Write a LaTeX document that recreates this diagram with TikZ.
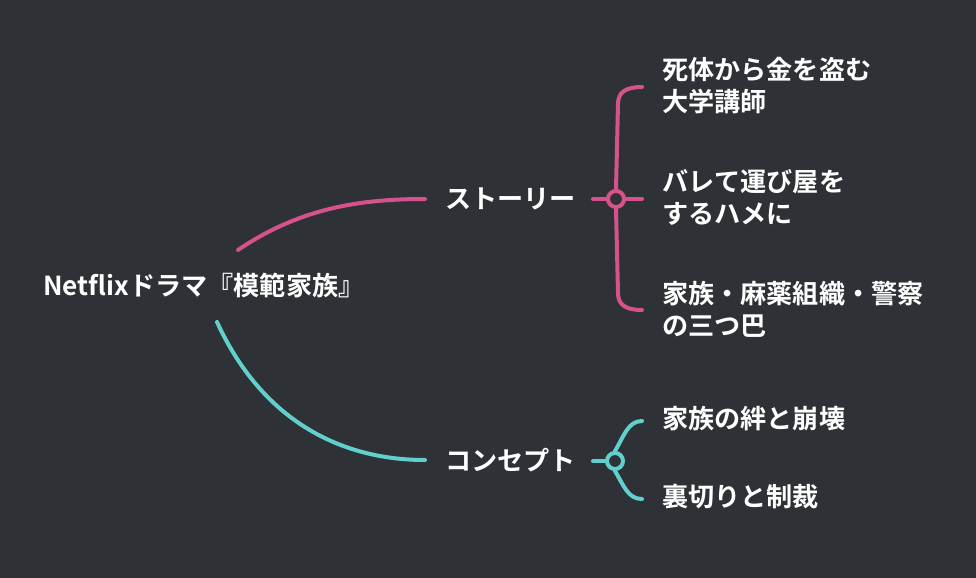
\documentclass[tikz,border=0pt]{standalone}
\usepackage{fontspec}
\setmainfont{Noto Sans CJK JP}[BoldFont={Noto Sans CJK JP Bold}]
\usepackage{tikz}
\usetikzlibrary{positioning}
\definecolor{bgdark}{HTML}{2E3236}
\definecolor{storypink}{HTML}{D6528A}
\definecolor{conceptcyan}{HTML}{62CFCF}

\tikzset{
  topic/.style={text=white, font=\fontsize{19.6}{24}\selectfont\bfseries, inner sep=0pt, anchor=west},
  leaf/.style={topic, align=left},
  branch/.style={line width=3pt, line cap=round},
  hub/.style={circle, line width=3pt, minimum size=12pt, inner sep=0pt, fill=bgdark},
}

\begin{document}
\begin{tikzpicture}[x=0.75pt,y=-0.75pt]
      \fill[bgdark] (0,0) rectangle (976,578);
      \useasboundingbox (0,0) rectangle (976,578);

      \node[topic] (root) at (43,285) {Netflixドラマ『模範家族』};
      \coordinate (root-up) at (238,250);
      \coordinate (root-down) at (217,322);

      % story branch
      \node[topic] (story) at (445,199) {ストーリー};
      \coordinate (story-in) at (425,199);
      \coordinate (story-out) at (593,199);
      \node[hub, draw=storypink] (story-hub) at (616,199) {};
      \coordinate (story-top) at (642,87);
      \coordinate (story-mid) at (642,199);
      \coordinate (story-bot) at (642,310);
      \node[leaf] (thief) at (662,86) {死体から金を盗む\\大学講師};
      \node[leaf] (mule) at (662,197) {バレて運び屋を\\するハメに};
      \node[leaf] (triangle) at (662,309) {家族・麻薬組織・警察\\の三つ巴};

      % concept branch
      \node[topic] (concept) at (445,460) {コンセプト};
      \coordinate (concept-in) at (425,460);
      \coordinate (concept-out) at (593,461);
      \node[hub, draw=conceptcyan] (concept-hub) at (615,461) {};
      \coordinate (concept-top) at (642,421);
      \coordinate (concept-bot) at (642,499);
      \node[leaf] (bond) at (662,419) {家族の絆と崩壊};
      \node[leaf] (betray) at (662,497) {裏切りと制裁};

      \draw[branch, storypink] (root-up) .. controls (300,208) and (360,199) .. (story-in);
      \draw[branch, storypink] (story-out) -- (story-hub.west);
      \draw[branch, storypink] (story-hub.east) -- (story-mid);
      \draw[branch, storypink] (story-hub.north) -- (618,104) .. controls (618,92) and (626,87) .. (story-top);
      \draw[branch, storypink] (story-hub.south) -- (618,293) .. controls (618,305) and (626,310) .. (story-bot);

      \draw[branch, conceptcyan] (root-down) .. controls (262,420) and (340,460) .. (concept-in);
      \draw[branch, conceptcyan] (concept-out) -- (concept-hub.west);
      \draw[branch, conceptcyan] (concept-hub.north) .. controls (624,436) and (628,421) .. (concept-top);
      \draw[branch, conceptcyan] (concept-hub.south) .. controls (624,486) and (628,499) .. (concept-bot);
    \end{tikzpicture}
\end{document}
